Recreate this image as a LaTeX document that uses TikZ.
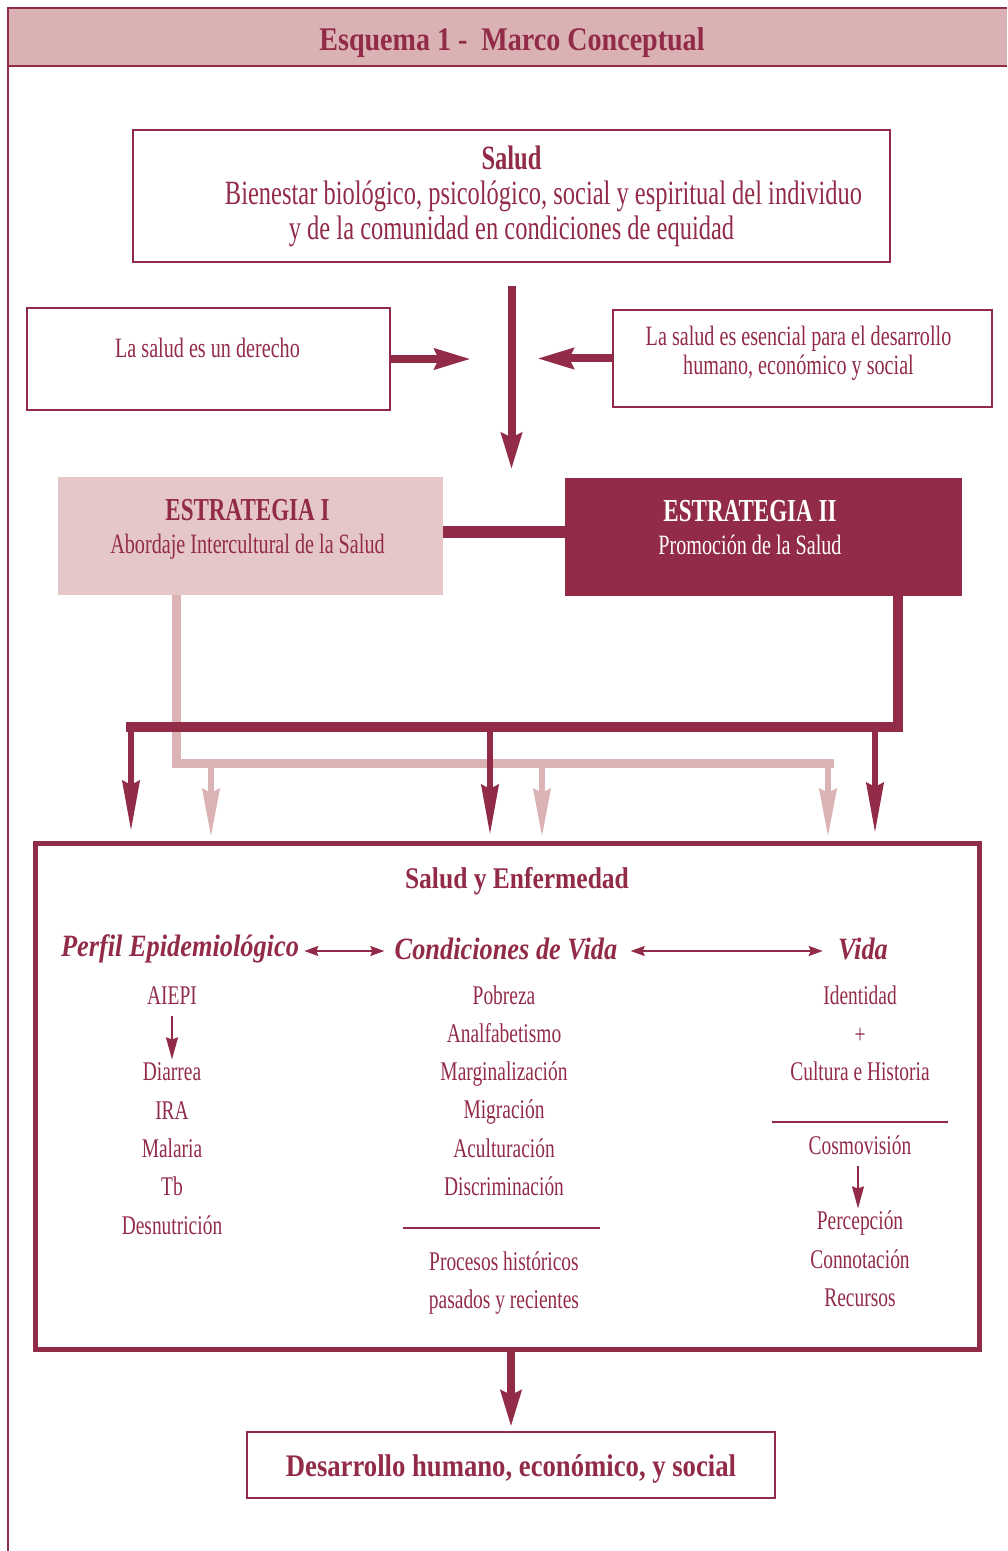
\documentclass[tikz,border=0pt]{standalone}
\usepackage{fontspec}
\setmainfont{Liberation Serif}[FakeStretch=0.72]
\newfontfamily\widefont{Liberation Serif}[FakeStretch=0.85]
\usepackage{xcolor}
\usepackage{tikz}
\usetikzlibrary{arrows.meta}
\usetikzlibrary{shapes,arrows,positioning}
\definecolor{marco-dark}{HTML}{922B48}
\definecolor{marco-header}{HTML}{DAB2B3}
\definecolor{marco-light}{HTML}{E6C7C9}
\definecolor{marco-pale}{HTML}{DBB3B4}
\tikzset{>=latex}
\tikzset{marco-box/.style={draw=marco-dark, line width=1pt, inner sep=0}}
\tikzset{marco-label/.style={inner sep=0, align=center, text=marco-dark, font=\fontsize{14}{14.5}\selectfont}}
\tikzset{marco-text/.style={inner sep=0, text=marco-dark, text height=9pt, text depth=3pt, font=\fontsize{13.5}{15}\selectfont}}
\tikzset{marco-head/.style={inner sep=0, text=marco-dark, font=\widefont\fontsize{15.5}{17}\selectfont\bfseries\itshape}}
\tikzset{marco-arrow/.style={marco-dark, line width=4pt, -{Stealth[length=18pt, width=10pt, inset=2pt]}}}
\tikzset{marco-drop/.style={marco-dark, line width=3pt, -{Stealth[length=25pt, width=8.5pt, inset=2pt]}}}
\tikzset{marco-pale-drop/.style={marco-pale, line width=3pt, -{Stealth[length=24pt, width=8.5pt, inset=2pt]}}}
\tikzset{marco-small/.style={marco-dark, line width=0.8pt, -{Stealth[length=11pt, width=6pt, inset=1pt]}}}
\tikzset{marco-double/.style={marco-dark, line width=1pt, {Stealth[length=7pt, width=5pt, inset=1pt]}-{Stealth[length=7pt, width=5pt, inset=1pt]}}}
\tikzset{marco-rule/.style={marco-dark, line width=1pt}}

\begin{document}
\begin{tikzpicture}[x=0.5pt, y=-0.5pt]
            \useasboundingbox (0,0) rectangle (1007,1551);

            % header strip and frame
            \fill[marco-header] (8,8) rectangle (1007,66);
            \draw[marco-dark, line width=1.2pt] (1007,8) -- (8,8) -- (8,1551);
            \draw[marco-dark, line width=1.2pt] (8,66) -- (1007,66);
            \node[inner sep=0, text=marco-dark, font=\widefont\fontsize{16.5}{19}\selectfont\bfseries] (title) at (512,43) {Esquema 1 -\ \ Marco Conceptual};

            \node[marco-box, minimum width=378.5pt, minimum height=66pt] (salud) at (511.5,196) {};
            \node[marco-label, font=\fontsize{17}{17.5}\selectfont] (salud-text) at (salud.center)
                {\textbf{Salud}\\\hspace*{32pt}Bienestar biológico, psicológico, social y espiritual del individuo\\y de la comunidad en condiciones de equidad};

            \node[marco-box, minimum width=181.5pt, minimum height=51pt] (derecho) at (208.5,359) {};
            \node[marco-label] (derecho-text) at ([xshift=-0.5pt, yshift=5.5pt]derecho.center) {La salud es un derecho};
            \node[marco-box, minimum width=189.5pt, minimum height=48.5pt] (esencial) at (802.5,358.5) {};
            \node[marco-label] (esencial-text) at ([xshift=-2pt, yshift=2.5pt]esencial.center)
                {La salud es esencial para el desarrollo\\humano, económico y social};

            \node[inner sep=0, fill=marco-light, minimum width=192.5pt, minimum height=59pt] (estr1) at (250.5,536) {};
            \node[marco-label, font=\fontsize{14}{16.5}\selectfont] (estr1-text) at ([xshift=-1.5pt, yshift=3.25pt]estr1.center)
                {{\fontsize{16}{16.5}\selectfont\bfseries ESTRATEGIA I}\\Abordaje Intercultural de la Salud};
            \node[inner sep=0, fill=marco-dark, minimum width=198.5pt, minimum height=59pt] (estr2) at (763.5,537) {};
            \node[marco-label, text=white, font=\fontsize{14}{16.5}\selectfont] (estr2-text) at ([xshift=-6.75pt, yshift=4.75pt]estr2.center)
                {{\fontsize{16}{16.5}\selectfont\bfseries ESTRATEGIA II}\\Promoción de la Salud};

            \draw[marco-arrow] ([yshift=-11.5pt]salud.south) -- ([yshift=3.5pt]salud.south |- estr1.north);
            \draw[marco-arrow] (derecho.east) -- ++(80,0);
            \draw[marco-arrow] (esencial.west) -- ++(-75,0);
            \draw[marco-dark, line width=6pt] (estr1.east |- 0,532) -- (estr2.west |- 0,532);

            \node[marco-box, line width=2.5pt, minimum width=472pt, minimum height=253pt] (enfermedad) at (507,1096) {};
            \node[inner sep=0, text=marco-dark, font=\widefont\fontsize{15}{17}\selectfont\bfseries] (enfermedad-title) at (517,881) {Salud y Enfermedad};

            % pale bus from Estrategia I
            \draw[marco-pale, line width=4.5pt] ([xshift=-37pt]estr1.south) |- (834,763);
            \draw[marco-pale-drop] (211,763) -- (211,837);
            \draw[marco-pale-drop] (542,763) -- (542,837);
            \draw[marco-pale-drop] (828,763) -- (828,837);

            % dark bus from Estrategia II
            \draw[marco-dark, line width=5pt] ([xshift=67pt]estr2.south) |- (126,727);
            \draw[marco-drop] (131,725) -- (131,831);
            \draw[marco-drop] (490,725) -- (490,835);
            \draw[marco-drop] (875,725) -- (875,833);

            % heading row
            \node[marco-head] (perfil) at (180,949) {Perfil Epidemiológico};
            \node[marco-head] (condiciones) at (506,949) {Condiciones de Vida};
            \node[marco-head] (vida) at (863,949) {Vida};
            \draw[marco-double] ([xshift=2.5pt, yshift=-1pt]perfil.east) -- ([xshift=-5pt, yshift=-1pt]condiciones.west);
            \draw[marco-double] ([xshift=6.5pt, yshift=-1pt]condiciones.east) -- ([xshift=-7.5pt, yshift=-1pt]vida.west);

            % first column
            \node[marco-text] (aiepi) at (172,998) {AIEPI};
            \node[marco-text, below=26pt of aiepi] (diarrea) {Diarrea};
            \node[marco-text, below=6.75pt of diarrea] (ira) {IRA};
            \node[marco-text, below=6.75pt of ira] (malaria) {Malaria};
            \node[marco-text, below=6.75pt of malaria] (tb) {Tb};
            \node[marco-text, below=6.75pt of tb] (desnutricion) {Desnutrición};
            \draw[marco-small] ([yshift=-3pt]aiepi.south) -- ([yshift=1.5pt]diarrea.north);

            % second column
            \node[marco-text] (pobreza) at (504,998) {Pobreza};
            \node[marco-text, below=6.75pt of pobreza] (analfabetismo) {Analfabetismo};
            \node[marco-text, below=6.75pt of analfabetismo] (marginalizacion) {Marginalización};
            \node[marco-text, below=6.75pt of marginalizacion] (migracion) {Migración};
            \node[marco-text, below=6.75pt of migracion] (aculturacion) {Aculturación};
            \node[marco-text, below=6.75pt of aculturacion] (discriminacion) {Discriminación};
            \node[marco-text, below=25pt of discriminacion] (procesos) {Procesos históricos};
            \node[marco-text, below=6.75pt of procesos] (pasados) {pasados y recientes};
            \draw[marco-rule] (403,1228) -- (600,1228);

            % third column
            \node[marco-text] (identidad) at (860,998) {Identidad};
            \node[marco-text, below=7.5pt of identidad] (mas) {+};
            \node[marco-text, below=6pt of mas] (cultura) {Cultura e Historia};
            \node[marco-text] (cosmovision) at (860,1148) {Cosmovisión};
            \node[marco-text, below=25.5pt of cosmovision] (percepcion) {Percepción};
            \node[marco-text, below=6.75pt of percepcion] (connotacion) {Connotación};
            \node[marco-text, below=6.75pt of connotacion] (recursos) {Recursos};
            \draw[marco-rule] (772,1122) -- (948,1122);
            \draw[marco-small] ([xshift=-1pt, yshift=-3pt]cosmovision.south) -- ([xshift=-1pt, yshift=1.5pt]percepcion.north);

            \node[marco-box, minimum width=264pt, minimum height=33pt] (desarrollo) at (511,1465) {};
            \node[marco-label, font=\widefont\fontsize{15.7}{17}\selectfont\bfseries] (desarrollo-text) at ([yshift=-2pt]desarrollo.center) {Desarrollo humano, económico, y social};
            \draw[marco-arrow] (enfermedad.south -| desarrollo.north) -- ([yshift=2pt]desarrollo.north);

        \end{tikzpicture}
\end{document}
